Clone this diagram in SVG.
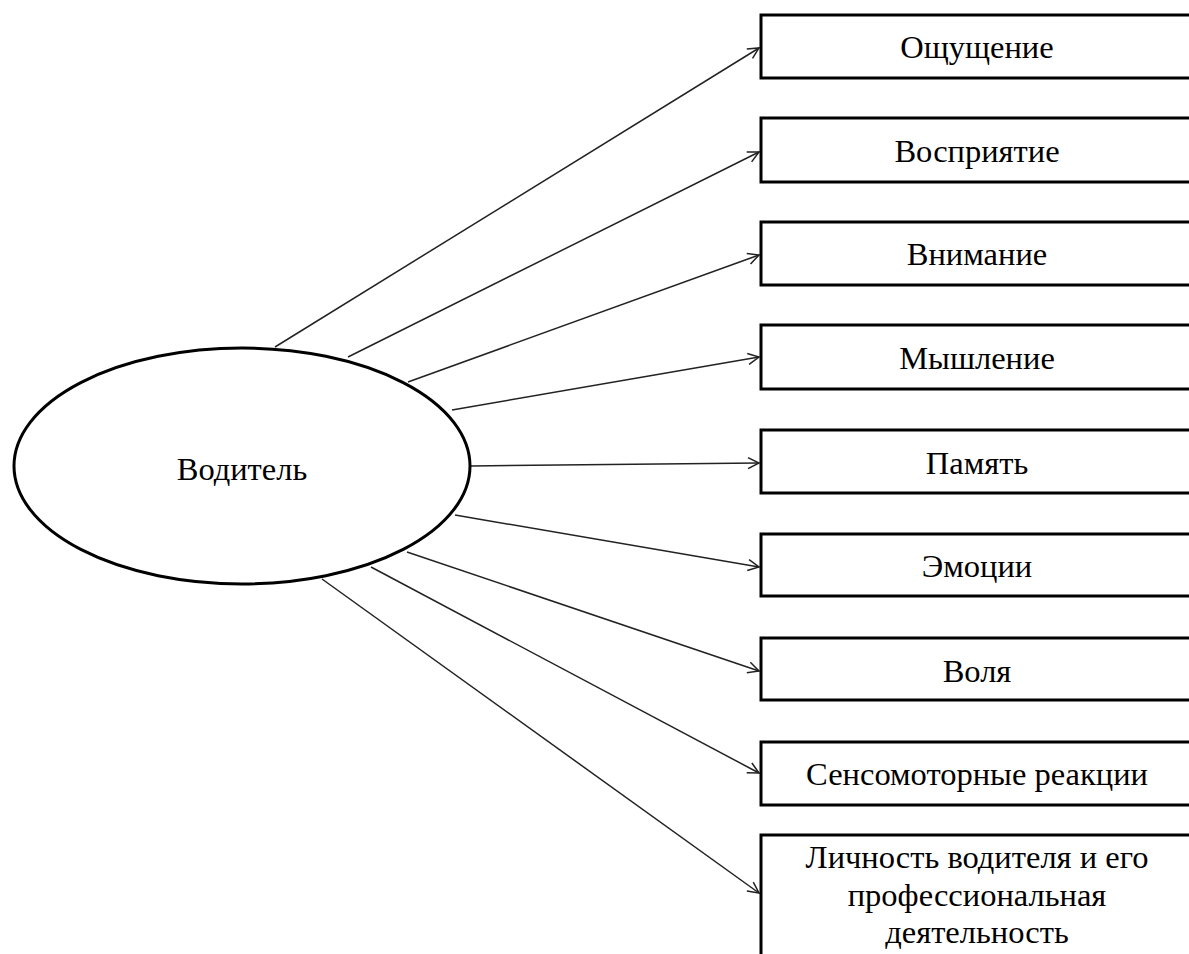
<svg xmlns="http://www.w3.org/2000/svg" width="1189" height="954" viewBox="0 0 1189 954">
<style>
.box{fill:#fff;stroke:#000;stroke-width:3}
.lbl{font-family:"Liberation Serif","Times New Roman",serif;font-size:32.5px;fill:#000;text-anchor:middle}
.con{stroke:#222;stroke-width:1.5;fill:none;marker-end:url(#ah)}
</style>
<defs>
<marker id="ah" markerUnits="userSpaceOnUse" markerWidth="14" markerHeight="14" refX="12" refY="7" orient="auto">
<path d="M1,1.5 L12,7 L1,12.5" fill="none" stroke="#222" stroke-width="1.5"/>
</marker>
</defs>
<rect width="1189" height="954" fill="#fff"/>
<g id="connectors">
<line class="con" x1="275" y1="347" x2="759" y2="48"/>
<line class="con" x1="348" y1="357" x2="759" y2="152"/>
<line class="con" x1="408" y1="382" x2="759" y2="255"/>
<line class="con" x1="452" y1="410" x2="759" y2="357"/>
<line class="con" x1="471" y1="466" x2="759" y2="463"/>
<line class="con" x1="455" y1="515" x2="759" y2="567"/>
<line class="con" x1="407" y1="552" x2="759" y2="671"/>
<line class="con" x1="371" y1="567" x2="759" y2="773"/>
<line class="con" x1="322" y1="579" x2="759" y2="893"/>
</g>
<g id="driver">
<ellipse cx="242" cy="466" rx="228" ry="118" fill="#fff" stroke="#000" stroke-width="3"/>
<text class="lbl" x="242" y="480">Водитель</text>
</g>
<g id="n1"><rect class="box" x="761" y="15" width="440" height="63"/><text class="lbl" x="977" y="58">Ощущение</text></g>
<g id="n2"><rect class="box" x="761" y="118" width="440" height="64"/><text class="lbl" x="977" y="162">Восприятие</text></g>
<g id="n3"><rect class="box" x="761" y="222" width="440" height="63"/><text class="lbl" x="977" y="265">Внимание</text></g>
<g id="n4"><rect class="box" x="761" y="325" width="440" height="64"/><text class="lbl" x="977" y="369">Мышление</text></g>
<g id="n5"><rect class="box" x="761" y="430" width="440" height="63"/><text class="lbl" x="977" y="474">Память</text></g>
<g id="n6"><rect class="box" x="761" y="534" width="440" height="62"/><text class="lbl" x="977" y="577">Эмоции</text></g>
<g id="n7"><rect class="box" x="761" y="638" width="440" height="62"/><text class="lbl" x="977" y="682">Воля</text></g>
<g id="n8"><rect class="box" x="761" y="742" width="440" height="63"/><text class="lbl" x="977" y="785">Сенсомоторные реакции</text></g>
<g id="n9"><rect class="box" x="761" y="835" width="440" height="140"/><text class="lbl" x="977" y="868">Личность водителя и его</text><text class="lbl" x="977" y="906">профессиональная</text><text class="lbl" x="977" y="943">деятельность</text></g>
</svg>
